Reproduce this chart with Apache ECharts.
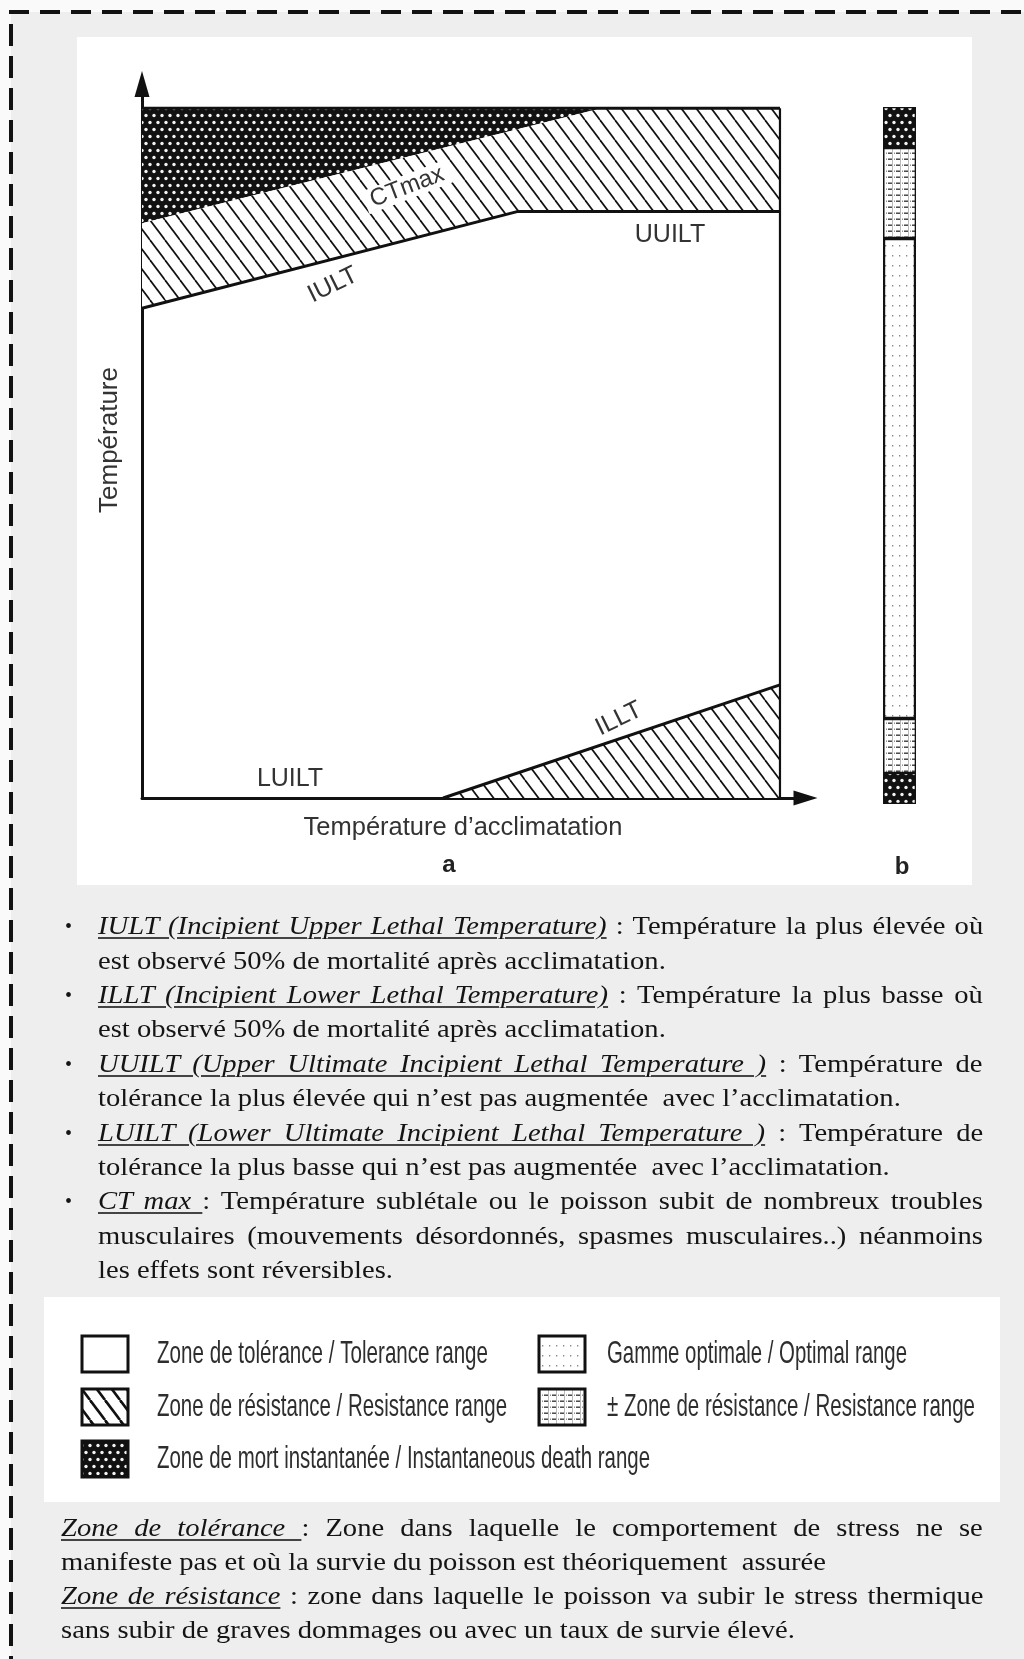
<!DOCTYPE html>
<html><head><meta charset="utf-8">
<script src="https://cdn.jsdelivr.net/npm/echarts@6/dist/echarts.min.js"></script>
<style>
html,body{margin:0;padding:0;width:1024px;height:1659px;overflow:hidden;background:#fafafa;}
#chart{position:absolute;left:0;top:0;width:1024px;height:1659px;}
#txt{position:absolute;left:0;top:0;width:1024px;height:1659px;pointer-events:none;font-family:"Liberation Serif","Times New Roman",serif;color:#141414;}
.ln{position:absolute;white-space:pre;font-size:26px;line-height:30px;}
.in{display:inline-block;transform-origin:0 0;white-space:pre;}
.u{font-style:italic;text-decoration:underline;text-decoration-color:#444;text-decoration-thickness:1.5px;text-underline-offset:3px;}
.bul{position:absolute;font-size:20px;line-height:30px;}
</style></head><body>
<div id="chart"></div><div id="txt"></div>
<script>
// ================= DATA =================
// main diagram (x: acclimation temperature, y: temperature), frame = 0..100
const frameEdges = [[0,100],[100,100],[100,0]];
const deathZone = [[0,100],[72,100],[0,83.3]];
const upperResistance = [[0,71],[58.8,85],[100,85],[100,100],[72,100],[0,83.3]];
const iultUuiltLine = [[0,71],[58.8,85],[100,85]];
const lowerResistance = [[47.2,0],[100,0],[100,16.4]];
const illtLine = [[47.2,0],[100,16.4]];
// bar b (bottom to top)
const barCategory = ['b'];
const barZoneNames = ['Zone de mort instantanée','± Zone de résistance','Gamme optimale','± Zone de résistance','Zone de mort instantanée'];
const barZoneValues = [31, 54, 481, 90, 41];
// texts
const zoneLabels = ['CTmax','IULT','UUILT','ILLT','LUILT'];
const axisTitles = ['Température', 'Température d\u2019acclimatation'];
const panelLetters = ['a','b'];
const legendItems = ['Zone de tolérance / Tolerance range','Zone de résistance / Resistance range','Zone de mort instantanée / Instantaneous death range','Gamme optimale / Optimal range','± Zone de résistance / Resistance range'];

// ================= PATTERNS =================
function makeCanvas(w,h,draw){const c=document.createElement('canvas');c.width=w;c.height=h;draw(c.getContext('2d'),w,h);return c;}
function hatchCanvas(w,h,lw){return makeCanvas(w,h,(g)=>{g.fillStyle='#fff';g.fillRect(0,0,w,h);g.strokeStyle='#111';g.lineWidth=lw;for(let k=-1;k<=1;k++){g.beginPath();g.moveTo(k*w,0);g.lineTo(k*w+w,h);g.stroke();}});}
const hatchPat = {image: hatchCanvas(15,20,1.7), repeat:'repeat'};
const hatchLegendPat = {image: hatchCanvas(15,20,2.6), repeat:'repeat'};
const deathPat = {image: makeCanvas(8,14,(g,w,h)=>{g.fillStyle='#111';g.fillRect(0,0,w,h);g.fillStyle='#f4f4f4';[[2,3.5],[6,10.5]].forEach(p=>{g.beginPath();g.arc(p[0],p[1],1.7,0,Math.PI*2);g.fill();});}), repeat:'repeat'};
const optPat = {image: makeCanvas(7,10,(g,w,h)=>{g.fillStyle='#fff';g.fillRect(0,0,w,h);g.fillStyle='#888';g.fillRect(3,5,1.3,1.5);}), repeat:'repeat'};
const resPat = {image: makeCanvas(8,6,(g,w,h)=>{g.fillStyle='#fff';g.fillRect(0,0,w,h);g.fillStyle='#3a3a3a';g.fillRect(0,2.5,5,1.4);g.fillStyle='#888';g.fillRect(6,2.5,1,1.4);g.fillStyle='#bbb';g.fillRect(4,0,1,6);}), repeat:'repeat'};

// ================= CHART =================
const chart = echarts.init(document.getElementById('chart'), null, {renderer:'canvas'});
const INK = '#111';
function polygonSeries(name, pts, fill, z){
  return {type:'custom', name, xAxisIndex:0, yAxisIndex:0, data:pts, z, silent:true, clip:false,
    encode:{x:0,y:1},
    renderItem(params, api){
      if(params.dataIndex!==0) return null;
      return {type:'polygon', shape:{points:pts.map(p=>api.coord(p))}, style:{fill:fill, stroke:null}};
    }};
}
function lineSeries(name, pts, width){
  return {type:'line', name, xAxisIndex:0, yAxisIndex:0, data:pts, symbol:'none', silent:true, z:6,
    lineStyle:{color:INK, width:width}};
}
const barFills = [deathPat, resPat, optPat, resPat, deathPat];
const barTotal = barZoneValues.reduce((a,b)=>a+b,0);

const mctx = document.createElement('canvas').getContext('2d');
function fitScale(text, font, w){mctx.font=font;return w/mctx.measureText(text).width;}

const labelFont = '25px "Liberation Sans", Arial, sans-serif';
function txt(text,x,y,opt){
  opt=opt||{};
  return Object.assign({type:'text', x, y, z:50, silent:true,
    style:Object.assign({text, font:labelFont, fill:'#333', align:'center', verticalAlign:'middle', textAlign:'center', textVerticalAlign:'middle'}, opt.style||{})},
    opt.el||{});
}
const deg = Math.PI/180;
const elements = [
  // backgrounds
  {type:'rect', z:-10, silent:true, shape:{x:11,y:12,width:1020,height:1650}, style:{fill:'#eeeeee'}},
  {type:'rect', z:-9, silent:true, shape:{x:77,y:37,width:895,height:848}, style:{fill:'#ffffff'}},
  {type:'rect', z:-9, silent:true, shape:{x:44,y:1297,width:956,height:205}, style:{fill:'#ffffff'}},
  // dashed frame
  {type:'line', z:-8, silent:true, shape:{x1:9,y1:12,x2:1030,y2:12}, style:{stroke:INK, lineWidth:4, lineDash:[20,11]}},
  {type:'line', z:-8, silent:true, shape:{x1:11,y1:24,x2:11,y2:1665}, style:{stroke:INK, lineWidth:4, lineDash:[22,10]}},
  // zone labels
  txt(zoneLabels[0], 407, 187, {el:{rotation:21*deg}, style:{backgroundColor:'#fff', padding:[0,6], font:'24px "Liberation Sans", Arial, sans-serif'}}),
  txt(zoneLabels[1], 333, 285, {el:{rotation:26*deg}}),
  txt(zoneLabels[2], 670, 235),
  txt(zoneLabels[3], 619, 719, {el:{rotation:26*deg}}),
  txt(zoneLabels[4], 290, 779),
  // axis titles
  txt(axisTitles[0], 110, 440, {el:{rotation:90*deg}, style:{font:'26px "Liberation Sans", Arial, sans-serif'}}),
  txt(axisTitles[1], 463, 828, {style:{font:'25.5px "Liberation Sans", Arial, sans-serif'}}),
  txt(panelLetters[0], 449, 865, {style:{font:'bold 24px "Liberation Sans", Arial, sans-serif', fill:'#222'}}),
  txt(panelLetters[1], 902, 867, {style:{font:'bold 24px "Liberation Sans", Arial, sans-serif', fill:'#222'}})
];
// legend
const legendLayout = [[82,1336,157,488],[82,1389,157,507],[82,1441,157,650],[539,1336,607,907],[539,1389,607,975]];
const legendFills = ['#ffffff', hatchLegendPat, deathPat, optPat, resPat];
const legendFont = '32px "Liberation Sans", Arial, sans-serif';
legendItems.forEach((name,i)=>{
  const L = legendLayout[i];
  elements.push({type:'rect', z:5, silent:true, shape:{x:L[0],y:L[1],width:46,height:36}, style:{fill:legendFills[i], stroke:INK, lineWidth:3}});
  elements.push({type:'text', z:50, silent:true, x:L[2], y:L[1]+18, scaleX:fitScale(name, legendFont, L[3]-L[2]),
    style:{text:name, font:legendFont, fill:'#2e2e2e', align:'left', verticalAlign:'middle', textAlign:'left', textVerticalAlign:'middle'}});
});

const axisBase = {axisTick:{show:false}, axisLabel:{show:false}, splitLine:{show:false}};
const option = {
  backgroundColor:'#fafafa',
  animation:false,
  grid:[{left:142, top:84, width:663.5, height:714}, {left:883, top:107, width:33, height:697}],
  xAxis:[
    Object.assign({type:'value', gridIndex:0, min:0, max:104,
      axisLine:{show:true, onZero:false, symbol:['none','triangle'], symbolSize:[15,24], lineStyle:{color:INK, width:3}}}, axisBase),
    {type:'category', gridIndex:1, data:barCategory, show:false}
  ],
  yAxis:[
    Object.assign({type:'value', gridIndex:0, min:0, max:103.5,
      axisLine:{show:true, onZero:false, symbol:['none','triangle'], symbolSize:[15,26], lineStyle:{color:INK, width:3}}}, axisBase),
    {type:'value', gridIndex:1, min:0, max:barTotal, show:false}
  ],
  series:[
    polygonSeries('Zone de mort instantanée', deathZone, deathPat, 2),
    polygonSeries('Zone de résistance (haut)', upperResistance, hatchPat, 2),
    polygonSeries('Zone de résistance (bas)', lowerResistance, hatchPat, 2),
    lineSeries('IULT / UUILT', iultUuiltLine, 3),
    lineSeries('ILLT', illtLine, 3),
    {type:'line', name:'cadre haut', xAxisIndex:0, yAxisIndex:0, data:frameEdges.slice(0,2), symbol:'none', silent:true, z:6, lineStyle:{color:INK, width:3}},
    {type:'line', name:'cadre droit', xAxisIndex:0, yAxisIndex:0, data:frameEdges.slice(1), symbol:'none', silent:true, z:6, lineStyle:{color:INK, width:2.2}}
  ].concat(barZoneValues.map((v,i)=>({
    type:'bar', name:barZoneNames[i], xAxisIndex:1, yAxisIndex:1, stack:'b', data:[v], barWidth:'100%', silent:true,
    itemStyle:{color:barFills[i], borderColor:INK, borderWidth:i===2?2.2:1.3}
  }))),
  graphic:{elements}
};
chart.setOption(option);

// ================= PARAGRAPH TEXT (HTML, justified) =================
const bulletLines = [
  {u:'IULT (Incipient Upper Lethal Temperature)', t:' : Température la plus élevée où', j:1, b:1},
  {t:'est observé 50% de mortalité après acclimatation.'},
  {u:'ILLT (Incipient Lower Lethal Temperature)', t:' : Température la plus basse où', j:1, b:1},
  {t:'est observé 50% de mortalité après acclimatation.'},
  {u:'UUILT (Upper Ultimate Incipient Lethal Temperature )', t:' : Température de', j:1, b:1},
  {t:'tolérance la plus élevée qui n\u2019est pas augmentée  avec l\u2019acclimatation.'},
  {u:'LUILT (Lower Ultimate Incipient Lethal Temperature )', t:' : Température de', j:1, b:1},
  {t:'tolérance la plus basse qui n\u2019est pas augmentée  avec l\u2019acclimatation.'},
  {u:'CT max ', t:': Température sublétale ou le poisson subit de nombreux troubles', j:1, b:1},
  {t:'musculaires (mouvements désordonnés, spasmes musculaires..) néanmoins', j:1},
  {t:'les effets sont réversibles.'}
];
const zoneLines = [
  {u:'Zone de tolérance ', t:': Zone dans laquelle le comportement de stress ne se', j:1},
  {t:'manifeste pas et où la survie du poisson est théoriquement  assurée'},
  {u:'Zone de résistance', t:' : zone dans laquelle le poisson va subir le stress thermique', j:1},
  {t:'sans subir de graves dommages ou avec un taux de survie élevé.'}
];
const S = 1.1, ASC = 23.8;
const host = document.getElementById('txt');
function renderLines(lines, left, right, base0, step){
  lines.forEach((L,i)=>{
    const base = base0 + step*i;
    if(L.b){const b=document.createElement('div');b.className='bul';b.textContent='\u2022';b.style.left='65px';b.style.top=(base-ASC)+'px';host.appendChild(b);}
    const d=document.createElement('div');d.className='ln';d.style.left=left+'px';d.style.top=(base-ASC)+'px';
    const inner=document.createElement('span');inner.className='in';inner.style.transform='scaleX('+S+')';
    if(L.u){const u=document.createElement('span');u.className='u';u.textContent=L.u;inner.appendChild(u);}
    inner.appendChild(document.createTextNode(L.t));
    d.appendChild(inner);host.appendChild(d);
    if(L.j){
      const full=(L.u||'')+L.t;const n=(full.match(/ /g)||[]).length;
      const nat=inner.offsetWidth;const ws=((right-left)/S-nat)/n;
      inner.style.wordSpacing=ws+'px';
    }
  });
}
renderLines(bulletLines, 98, 983, 935, 34.4);
renderLines(zoneLines, 61, 983, 1537, 34);
</script>
</body></html>
